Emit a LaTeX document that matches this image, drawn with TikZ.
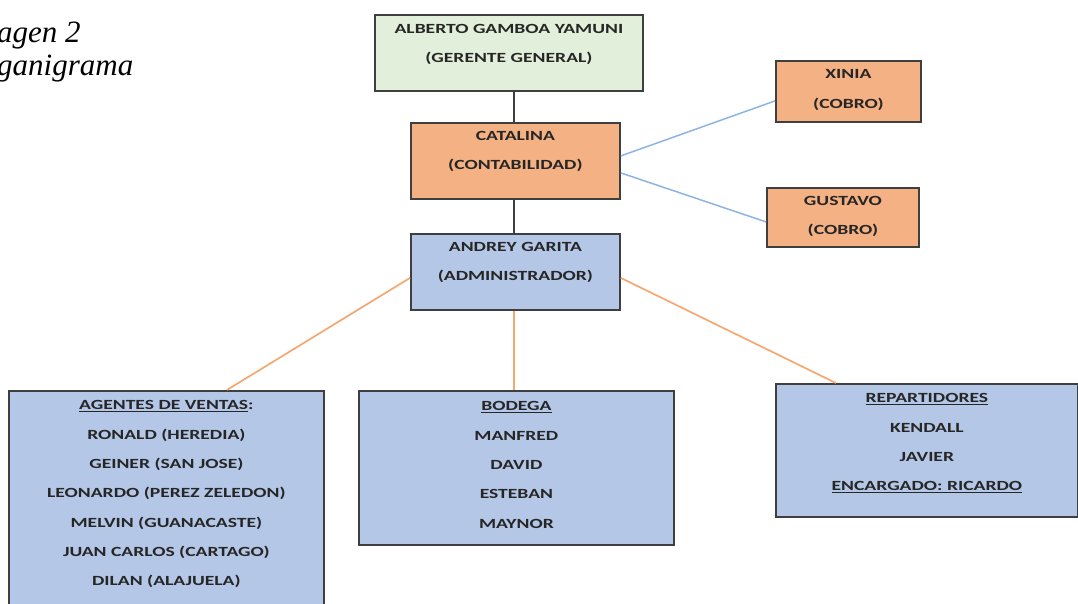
\documentclass[tikz,border=0pt]{standalone}
\usepackage{fontspec}
\setmainfont{Liberation Serif}
\newfontfamily\calib[FakeStretch=1.4]{Carlito}
\usetikzlibrary{positioning}
\definecolor{verde}{HTML}{E2EFDA}
\definecolor{naranja}{HTML}{F4B183}
\definecolor{celeste}{HTML}{B4C7E7}
\definecolor{borde}{HTML}{3F3F3F}
\definecolor{texto}{HTML}{262626}
\definecolor{lineaazul}{HTML}{8DB4E2}
\definecolor{lineanar}{HTML}{F4A870}
\tikzset{
  caja/.style={draw=borde,line width=1.8pt,anchor=north west,inner sep=0pt},
  txt/.style={anchor=north,align=center,inner sep=0pt,text=texto,
    font=\calib\bfseries\fontsize{14}{29.3}\selectfont},
  azul/.style={draw=lineaazul,line width=1.5pt},
  nar/.style={draw=lineanar,line width=1.7pt},
  negro/.style={draw=borde,line width=2pt}
}

\begin{document}
\begin{tikzpicture}[x=1pt,y=-1pt]
\useasboundingbox (0,0) rectangle (1078,603);
% titulo
\node[anchor=base west,inner sep=0pt,font=\itshape\fontsize{31}{31}\selectfont] (tit1) at (-3,42) {agen 2};
\node[anchor=base west,inner sep=0pt,font=\itshape\fontsize{31}{31}\selectfont] (tit2) at (-3,75) {ganigrama};
% cajas
\node[caja,fill=verde,minimum width=268pt,minimum height=76pt] (alberto) at (374,14) {};
\node[caja,fill=naranja,minimum width=209pt,minimum height=76pt] (catalina) at (410,122) {};
\node[caja,fill=naranja,minimum width=145pt,minimum height=61pt] (xinia) at (775,60) {};
\node[caja,fill=naranja,minimum width=152pt,minimum height=59pt] (gustavo) at (766,187) {};
\node[caja,fill=celeste,minimum width=209pt,minimum height=76pt] (andrey) at (410,233) {};
\node[caja,fill=celeste,minimum width=315pt,minimum height=230pt] (agentes) at (8,390) {};
\node[caja,fill=celeste,minimum width=315pt,minimum height=154pt] (bodega) at (358,390) {};
\node[caja,fill=celeste,minimum width=302pt,minimum height=133pt] (repart) at (775,383) {};
% textos
\node[txt] (albertoT) at ([yshift=-10pt]alberto.north) {ALBERTO GAMBOA YAMUNI\\(GERENTE GENERAL)};
\node[txt] (catalinaT) at ([yshift=-9pt]catalina.north) {CATALINA\\(CONTABILIDAD)};
\node[txt] (xiniaT) at ([yshift=-9.5pt]xinia.north) {XINIA\\(COBRO)};
\node[txt] (gustavoT) at ([yshift=-9pt]gustavo.north) {GUSTAVO\\(COBRO)};
\node[txt] (andreyT) at ([yshift=-9pt]andrey.north) {ANDREY GARITA\\(ADMINISTRADOR)};
\node[txt] (agentesT) at ([yshift=-10.5pt]agentes.north) {\underline{AGENTES DE VENTAS}:\\RONALD (HEREDIA)\\GEINER (SAN JOSE)\\LEONARDO (PEREZ ZELEDON)\\MELVIN (GUANACASTE)\\JUAN CARLOS (CARTAGO)\\DILAN (ALAJUELA)};
\node[txt] (bodegaT) at ([yshift=-11.5pt]bodega.north) {\underline{BODEGA}\\MANFRED\\DAVID\\ESTEBAN\\MAYNOR};
\node[txt] (repartT) at ([yshift=-10.5pt]repart.north) {\underline{REPARTIDORES}\\KENDALL\\JAVIER\\\underline{ENCARGADO: RICARDO}};
% lineas
\draw[negro] ([xshift=-1.5pt]catalina.north |- alberto.south) -- ([xshift=-1.5pt]catalina.north);
\draw[negro] ([xshift=-1.5pt]catalina.south) -- ([xshift=-1.5pt]andrey.north);
\draw[azul] ([yshift=5pt]catalina.east) -- ([yshift=-9.5pt]xinia.west);
\draw[azul] ([yshift=-12pt]catalina.east) -- ([yshift=-4.5pt]gustavo.west);
\draw[nar] ([yshift=-6pt]andrey.west) -- ([xshift=60.5pt]agentes.north);
\draw[nar] ([xshift=-1.5pt]andrey.south) -- ([xshift=-1.5pt]andrey.south |- bodega.north);
\draw[nar] ([yshift=-6pt]andrey.east) -- ([xshift=-91pt]repart.north);
\end{tikzpicture}
\end{document}
